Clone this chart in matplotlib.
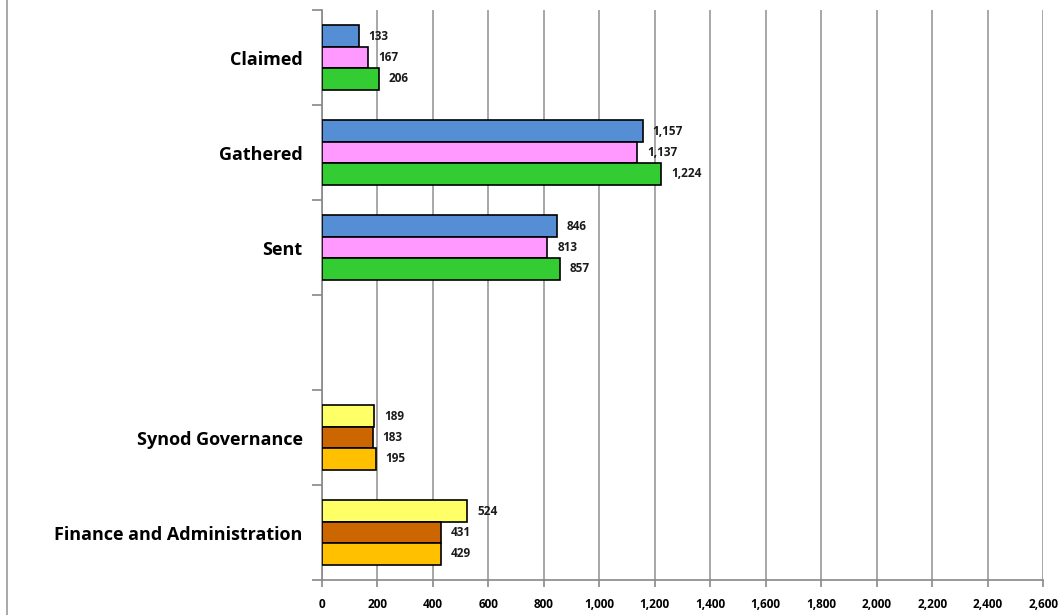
import matplotlib.pyplot as plt
import numpy as np
from matplotlib.lines import Line2D

# Data
categories = ["Claimed", "Gathered", "Sent", "", "Synod Governance", "Finance and Administration"]
series_a = [133, 1157, 846, None, 189, 524]
series_b = [167, 1137, 813, None, 183, 431]
series_c = [206, 1224, 857, None, 195, 429]
colors_top = ["#558ED5", "#FF99FF", "#33CC33"]
colors_bottom = ["#FFFF66", "#CC6600", "#FFC000"]

plt.rcParams['font.family'] = ['Open Sans', 'DejaVu Sans']

fig = plt.figure(figsize=(10.64, 6.15), dpi=100)
ax = fig.add_axes([0.3026, 0.0569, 0.9803 - 0.3026, 0.9837 - 0.0569])

h = 0.226
y = np.arange(len(categories))
for i, vals in enumerate([series_a, series_b, series_c]):
    for j, v in enumerate(vals):
        if v is None:
            continue
        col = colors_top[i] if j < 3 else colors_bottom[i]
        yy = y[j] + (i - 1) * h
        ax.barh(yy, v, height=h, color=col, edgecolor="black", linewidth=1.2, zorder=3)
        ax.text(v + 35, yy, f"{v:,}", va="center", ha="left", fontsize=8.5,
                fontweight="bold", color="#1a1a1a", zorder=4)

ax.set_xlim(0, 2600)
ax.set_ylim(len(categories) - 0.5, -0.5)
ax.set_xticks(np.arange(0, 2601, 200))
ax.set_xticklabels([f"{t:,}" for t in range(0, 2601, 200)], fontsize=8.5, fontweight="bold")
ax.set_yticks(y)
ax.set_yticklabels(categories, fontsize=13, fontweight="bold")
ax.set_yticks(np.arange(-0.5, len(categories), 1), minor=True)
ax.tick_params(axis="y", which="major", length=0, pad=14)
ax.tick_params(axis="y", which="minor", length=7, color="#888888", width=1.2, direction="out")
ax.tick_params(axis="x", length=5, color="#888888", width=1.2, direction="out", pad=8)

ax.grid(axis="x", color="#a0a0a0", linewidth=1.3, zorder=0)
for s in ["top", "right"]:
    ax.spines[s].set_visible(False)
ax.spines["left"].set_color("#888888")
ax.spines["bottom"].set_color("#888888")
ax.spines["left"].set_linewidth(1.2)
ax.spines["bottom"].set_linewidth(1.2)

# left border of the chart area
fig.add_artist(Line2D([0.0066, 0.0066], [0, 1], color="#999999", linewidth=1.2))

fig.savefig("out.png", dpi=100)
